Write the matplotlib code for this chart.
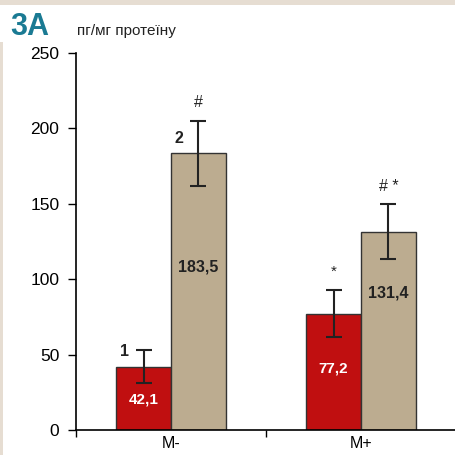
import numpy as np
import matplotlib.pyplot as plt
from matplotlib.patches import Rectangle

plt.rcParams['font.family'] = ['Liberation Sans', 'DejaVu Sans']

groups = ["M-", "M+"]
series1 = [42.1, 77.2]      # red bars
series2 = [183.5, 131.4]    # tan bars
err1 = [11.0, 15.7]
err2 = [21.5, 18.3]
labels1 = ["42,1", "77,2"]
labels2 = ["183,5", "131,4"]
label_y1 = [20, 41]
label_y2 = [108, 91]
marks1 = ["", "*"]
marks2 = ["#", "# *"]

RED = "#c00f10"
TAN = "#bcac90"
EDGE = "#333333"

W, H = 456, 455
fig = plt.figure(figsize=(W / 100, H / 100), dpi=100)
fig.patch.set_facecolor("#e6ddd2")
fig.add_artist(Rectangle((3 / W, 0), 1, (H - 5) / H, transform=fig.transFigure,
                         facecolor="white", edgecolor="none", zorder=0))
fig.add_artist(Rectangle((0, 1 - 42 / H), 50 / W, 37 / H, transform=fig.transFigure,
                         facecolor="white", edgecolor="none", zorder=0))

ax = fig.add_axes([76 / W, (H - 430) / H, (W - 76) / W, 377 / H])
ax.set_facecolor("none")

x = np.arange(len(groups))
bw = 0.288
ax.bar(x - bw / 2, series1, bw, color=RED, edgecolor=EDGE, linewidth=1.0, zorder=2)
ax.bar(x + bw / 2, series2, bw, color=TAN, edgecolor=EDGE, linewidth=1.0, zorder=2)
ax.errorbar(x - bw / 2, series1, yerr=err1, fmt="none", ecolor="#222222",
            elinewidth=1.5, capsize=5.5, capthick=1.5, zorder=3)
ax.errorbar(x + bw / 2, series2, yerr=err2, fmt="none", ecolor="#222222",
            elinewidth=1.5, capsize=5.5, capthick=1.5, zorder=3)

for i in range(len(groups)):
    ax.text(x[i] - bw / 2, label_y1[i], labels1[i], ha="center", va="center",
            color="white", fontsize=11, fontweight="bold", zorder=4)
    ax.text(x[i] + bw / 2, label_y2[i], labels2[i], ha="center", va="center",
            color="#222222", fontsize=11.5, fontweight="bold", zorder=4)
    if marks1[i]:
        ax.text(x[i] - bw / 2, series1[i] + err1[i] + 12, marks1[i], ha="center",
                va="center", fontsize=11, color="#222222")
    ax.text(x[i] + bw / 2, series2[i] + err2[i] + 12, marks2[i], ha="center",
            va="center", fontsize=11.5, color="#222222")

ax.text(x[0] - bw + 0.02, 52, "1", ha="left", va="center", fontsize=11.5,
        fontweight="bold", color="#222222")
ax.text(x[0] + 0.02, 193, "2", ha="left", va="center", fontsize=11.5,
        fontweight="bold", color="#222222")

ax.set_xlim(-0.5, 1.49)
ax.set_ylim(0, 250)
ax.set_yticks([0, 50, 100, 150, 200, 250])
ax.set_xticks([-0.5, 0.5, 1.5], minor=False)
ax.set_xticklabels(["", "", ""])
ax.set_xticks(x, minor=True)
ax.set_xticklabels(groups, minor=True)
ax.tick_params(axis="x", which="minor", length=0, labelsize=11.5, pad=4)
ax.tick_params(axis="x", which="major", length=5, width=1, direction="out")
ax.tick_params(axis="y", length=6, width=1, labelsize=12.5, pad=6)
for s in ["top", "right"]:
    ax.spines[s].set_visible(False)
ax.spines["left"].set_linewidth(1.2)
ax.spines["bottom"].set_linewidth(1.2)

fig.text(10 / W, 1 - 35 / H, "3A", fontsize=22, fontweight="bold", color="#1a7a93",
         ha="left", va="baseline")
fig.text(77 / W, 1 - 35 / H, "пг/мг протеїну", fontsize=11, color="#222222",
         ha="left", va="baseline")

fig.savefig("out.png", dpi=100, facecolor=fig.get_facecolor())
